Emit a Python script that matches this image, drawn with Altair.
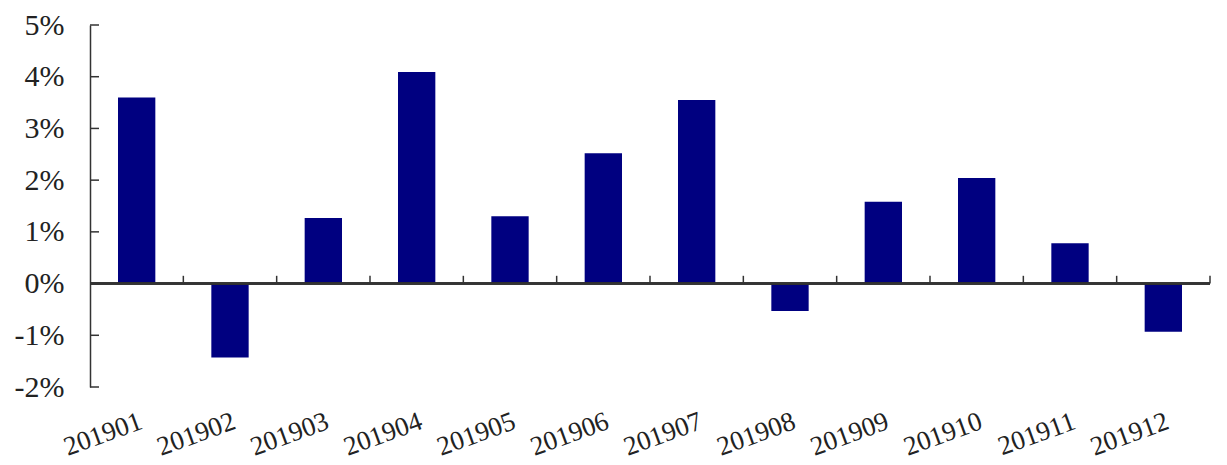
import altair as alt
import pandas as pd

months = ["201901", "201902", "201903", "201904", "201905", "201906",
          "201907", "201908", "201909", "201910", "201911", "201912"]
values = [3.6, -1.43, 1.27, 4.09, 1.3, 2.52, 3.55, -0.53, 1.58, 2.04, 0.78, -0.93]
y_ticks = [-2, -1, 0, 1, 2, 3, 4, 5]

df = pd.DataFrame({"month": months, "value": values})
tick_df = pd.DataFrame({"t": y_ticks})

FONT = "Liberation Serif"
W, H = 1120, 362

xscale = alt.Scale(paddingInner=0, paddingOuter=0)
yscale = alt.Scale(domain=[-2, 5], nice=False, zero=False)

bars = alt.Chart(df).mark_bar(color="#000080", width={"band": 0.4}).encode(
    x=alt.X("month:N", sort=months, scale=xscale, title=None,
            axis=alt.Axis(orient="bottom", domain=False, ticks=False, grid=False,
                          labelAngle=-20, labelAlign="right", labelBaseline="top",
                          labelFont=FONT, labelFontSize=27, labelColor="#222",
                          labelPadding=21)),
    y=alt.Y("value:Q", scale=yscale, title=None,
            axis=alt.Axis(values=y_ticks, labelExpr="datum.value + '%'",
                          ticks=False, grid=False, domainColor="#333", domainWidth=1.5,
                          labelFont=FONT, labelFontSize=30, labelColor="#222",
                          labelPadding=26)),
)

zero = alt.Chart(df).mark_rule(color="#333", strokeWidth=1.5).encode(
    y=alt.Y(datum=0, scale=yscale)
)

xt = alt.Chart(df).mark_rule(color="#333", strokeWidth=1.5).encode(
    x=alt.X("month:N", sort=months, scale=xscale, bandPosition=1),
    y=alt.Y(datum=0, scale=yscale),
    y2=alt.Y2(datum=0.15),
)

yt = alt.Chart(tick_df).mark_rule(color="#333", strokeWidth=1.5).encode(
    y=alt.Y("t:Q", scale=yscale),
    x=alt.value(0),
    x2=alt.value(9),
)

chart = alt.layer(bars, zero, xt, yt).properties(
    width=W, height=H,
    autosize=alt.AutoSizeParams(type="none"),
    padding={"left": 82, "top": 17, "right": 9, "bottom": 80},
    background="white",
).configure_view(stroke=None).configure_axis(grid=False)

chart.save("out.html", embed_options={"renderer": "svg", "actions": False})
